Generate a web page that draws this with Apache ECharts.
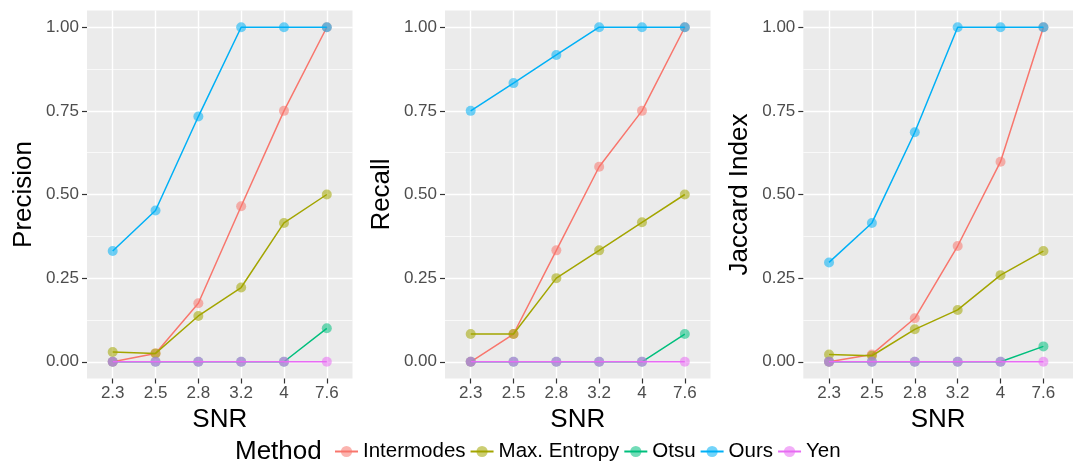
<!DOCTYPE html>
<html>
<head>
<meta charset="utf-8">
<script src="https://cdn.jsdelivr.net/npm/echarts@6/dist/echarts.min.js"></script>
<style>
html,body{margin:0;padding:0;background:#fff;}
#chart{width:1073px;height:464px;}
</style>
</head>
<body>
<div id="chart"></div>
<script>
// ---- data ----
const snrLabels = ['2.3', '2.5', '2.8', '3.2', '4', '7.6'];
const methods = ['Intermodes', 'Max. Entropy', 'Otsu', 'Ours', 'Yen'];
const methodColors = ['#F8766D', '#A3A500', '#00BF7D', '#00B0F6', '#E76BF3'];
const yTickValues = [0, 0.25, 0.5, 0.75, 1];
const xTickValues = [0, 1, 2, 3, 4, 5];
const panelTitles = ['Precision', 'Recall', 'Jaccard Index'];

const precisionIntermodes = [0, 0.025, 0.175, 0.465, 0.75, 1.0];
const precisionMaxEntropy = [0.029, 0.025, 0.137, 0.222, 0.415, 0.5];
const precisionOtsu = [0, 0, 0, 0, 0, 0.1];
const precisionOurs = [0.331, 0.452, 0.733, 1, 1, 1];
const precisionYen = [0, 0, 0, 0, 0, 0];

const recallIntermodes = [0, 0.083, 0.333, 0.583, 0.75, 1.0];
const recallMaxEntropy = [0.083, 0.083, 0.25, 0.333, 0.417, 0.5];
const recallOtsu = [0, 0, 0, 0, 0, 0.083];
const recallOurs = [0.75, 0.833, 0.917, 1, 1, 1];
const recallYen = [0, 0, 0, 0, 0, 0];

const jaccardIntermodes = [0, 0.022, 0.13, 0.346, 0.598, 1.0];
const jaccardMaxEntropy = [0.022, 0.018, 0.097, 0.155, 0.259, 0.331];
const jaccardOtsu = [0, 0, 0, 0, 0, 0.046];
const jaccardOurs = [0.297, 0.415, 0.686, 1, 1, 1];
const jaccardYen = [0, 0, 0, 0, 0, 0];

const panelData = [
  [precisionIntermodes, precisionMaxEntropy, precisionOtsu, precisionOurs, precisionYen],
  [recallIntermodes, recallMaxEntropy, recallOtsu, recallOurs, recallYen],
  [jaccardIntermodes, jaccardMaxEntropy, jaccardOtsu, jaccardOurs, jaccardYen]
];

// ---- layout ----
const FONT = '"Liberation Sans", Arial, Helvetica, sans-serif';
const grids = [
  {left: 87, top: 10.5, width: 265.5, height: 368},
  {left: 445, top: 10.5, width: 265.5, height: 368},
  {left: 803.3, top: 10.5, width: 269.7, height: 368}
];
const xMaxes = [5.6, 5.6, 5.69];
const clearLine = {show: true, onZero: false, lineStyle: {color: 'rgba(255,255,255,0)', width: 1}};

const option = {
  backgroundColor: '#ffffff',
  animation: false,
  textStyle: {fontFamily: FONT},
  grid: grids.map(g => Object.assign({show: true, backgroundColor: '#EBEBEB', borderWidth: 0, containLabel: false}, g)),
  title: {
    text: 'Method', left: 235, top: 439, padding: 0,
    textStyle: {fontFamily: FONT, fontSize: 26, fontWeight: 'normal', color: '#000'}
  },
  legend: {
    data: methods, left: 334, top: 441, padding: 0,
    itemWidth: 23, itemHeight: 14, itemGap: 4,
    textStyle: {fontFamily: FONT, fontSize: 20.5, color: '#000'}
  },
  xAxis: [],
  yAxis: [],
  series: []
};

grids.forEach((g, p) => {
  option.xAxis.push({
    gridIndex: p, type: 'value', position: 'bottom', min: -0.6, max: xMaxes[p], minInterval: 1, maxInterval: 1,
    axisLine: clearLine,
    axisTick: {show: true, inside: false, length: 5, lineStyle: {color: '#333333', width: 1.2}},
    axisLabel: {
      margin: 6, fontSize: 17, color: '#4D4D4D', fontFamily: FONT, showMinLabel: false, showMaxLabel: false,
      formatter: v => (Number.isInteger(v) && snrLabels[v] !== undefined) ? snrLabels[v] : ''
    },
    splitLine: {show: true, showMinLine: false, showMaxLine: false, lineStyle: {color: '#ffffff', width: 1.4}},
    name: 'SNR', nameLocation: 'middle', nameGap: 21,
    nameTextStyle: {fontSize: 26, color: '#000', fontFamily: FONT}
  });
  option.yAxis.push({
    gridIndex: p, type: 'value', position: 'left', min: -0.05, max: 1.05, minInterval: 0.25, maxInterval: 0.25,
    axisLine: clearLine,
    axisTick: {show: true, inside: false, length: 5, lineStyle: {color: '#333333', width: 1.2}},
    axisLabel: {
      margin: 8, fontSize: 17, color: '#4D4D4D', fontFamily: FONT, showMinLabel: false, showMaxLabel: false,
      formatter: v => (yTickValues.indexOf(Math.round(v * 1000) / 1000) >= 0) ? v.toFixed(2) : ''
    },
    splitLine: {show: true, showMinLine: false, showMaxLine: false, lineStyle: {color: '#ffffff', width: 1.4}},
    name: panelTitles[p], nameLocation: 'middle', nameGap: 50,
    nameTextStyle: {fontSize: 26, color: '#000', fontFamily: FONT}
  });
});
// minor grid y axes
grids.forEach((g, p) => {
  option.yAxis.push({
    gridIndex: p, type: 'value', position: 'left', min: -0.05, max: 1.05, minInterval: 0.125, maxInterval: 0.125,
    axisLine: {show: false, onZero: false}, axisTick: {show: false}, axisLabel: {show: false},
    splitLine: {show: true, showMinLine: false, showMaxLine: false, lineStyle: {color: '#ffffff', width: 0.7}}
  });
});

panelData.forEach((arrs, p) => {
  arrs.forEach((vals, m) => {
    option.series.push({
      name: methods[m], type: 'line', xAxisIndex: p, yAxisIndex: p,
      data: vals.map((v, i) => [i, v]),
      symbol: 'circle', symbolSize: 10, showSymbol: true,
      lineStyle: {color: methodColors[m], width: 1.5},
      itemStyle: {color: methodColors[m], opacity: 0.55},
      emphasis: {disabled: true},
      z: 2 + m
    });
  });
});

const chart = echarts.init(document.getElementById('chart'), null, {renderer: 'canvas'});
chart.setOption(option);
</script>
</body>
</html>
